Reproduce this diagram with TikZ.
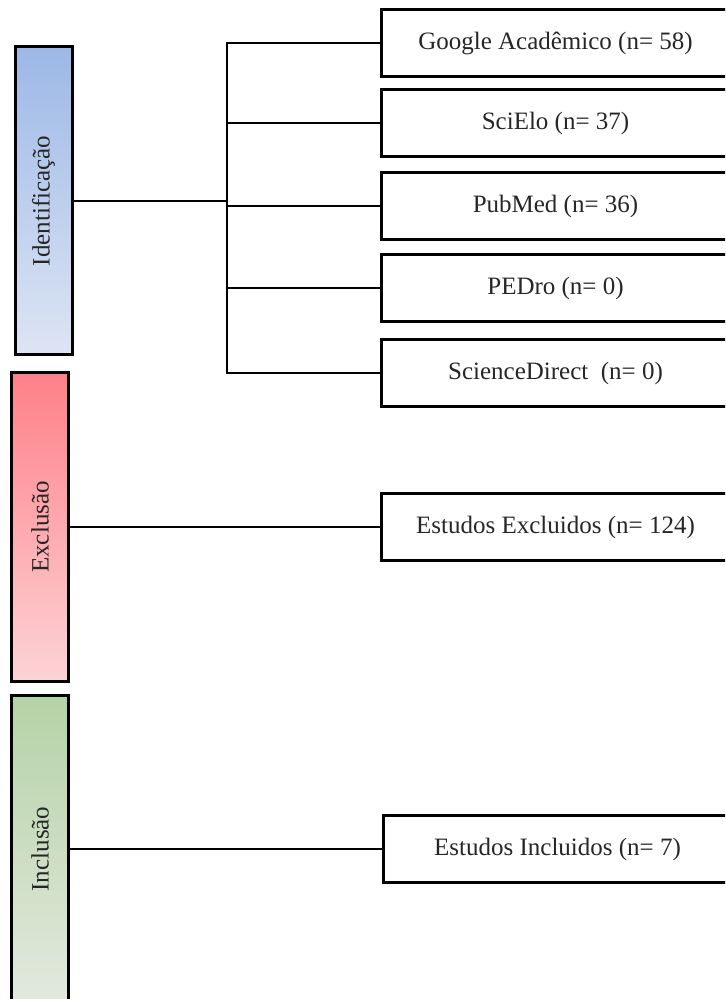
\documentclass[tikz,border=0pt]{standalone}
\usepackage{fontspec}
\setmainfont{Liberation Serif}
\definecolor{bleuh}{HTML}{9DB8E6}
\definecolor{bleub}{HTML}{DDE5F4}
\definecolor{rougeh}{HTML}{FF8088}
\definecolor{rougeb}{HTML}{FCD3D6}
\definecolor{verth}{HTML}{B5D2A6}
\definecolor{vertb}{HTML}{E2E9DE}

\begin{document}
\begin{tikzpicture}[x=0.5pt,y=-0.5pt]
\tikzset{barre/.style={draw, line width=1.5pt, minimum width=28.5pt, minimum height=154pt, inner sep=0pt, text=black!85, font=\fontsize{12.5}{15}\selectfont},
boite/.style={draw, line width=1.5pt, anchor=west, minimum width=174pt, minimum height=33.5pt, text=black!85, font=\fontsize{12.5}{15}\selectfont},
lien/.style={line width=1pt}}
\useasboundingbox (0,0) rectangle (725,999);
\clip (0,0) rectangle (725,999);
\node[barre, top color=bleuh, bottom color=bleub] (B1) at (43.5,201) {\rotatebox{90}{Identificação}};
\node[barre, top color=rougeh, bottom color=rougeb] (B2) at (40,527) {\rotatebox{90}{Exclusão}};
\node[barre, top color=verth, bottom color=vertb] (B3) at (40,849) {\rotatebox{90}{Inclusão}};
\node[boite] (S1) at (380,43.5) {Google Acadêmico (n= 58)};
\node[boite] (S2) at (380,123.5) {SciElo (n= 37)};
\node[boite] (S3) at (380,206.5) {PubMed (n= 36)};
\node[boite] (S4) at (380,288.5) {PEDro (n= 0)};
\node[boite] (S5) at (380,373) {ScienceDirect\ \ (n= 0)};
\node[boite] (E1) at (380,527) {Estudos Excluidos (n= 124)};
\node[boite] (I1) at (382,849) {Estudos Incluidos (n= 7)};
\coordinate (T) at (227,201);
\draw[lien] (B1.east) -- (T);
\draw[lien] (T) |- (S1.west);
\draw[lien] (T) |- (S2.west);
\draw[lien] (T) |- (S3.west);
\draw[lien] (T) |- (S4.west);
\draw[lien] (T) |- (S5.west);
\draw[lien] (B2.east) -- (E1.west);
\draw[lien] (B3.east) -- (I1.west);
\end{tikzpicture}
\end{document}
